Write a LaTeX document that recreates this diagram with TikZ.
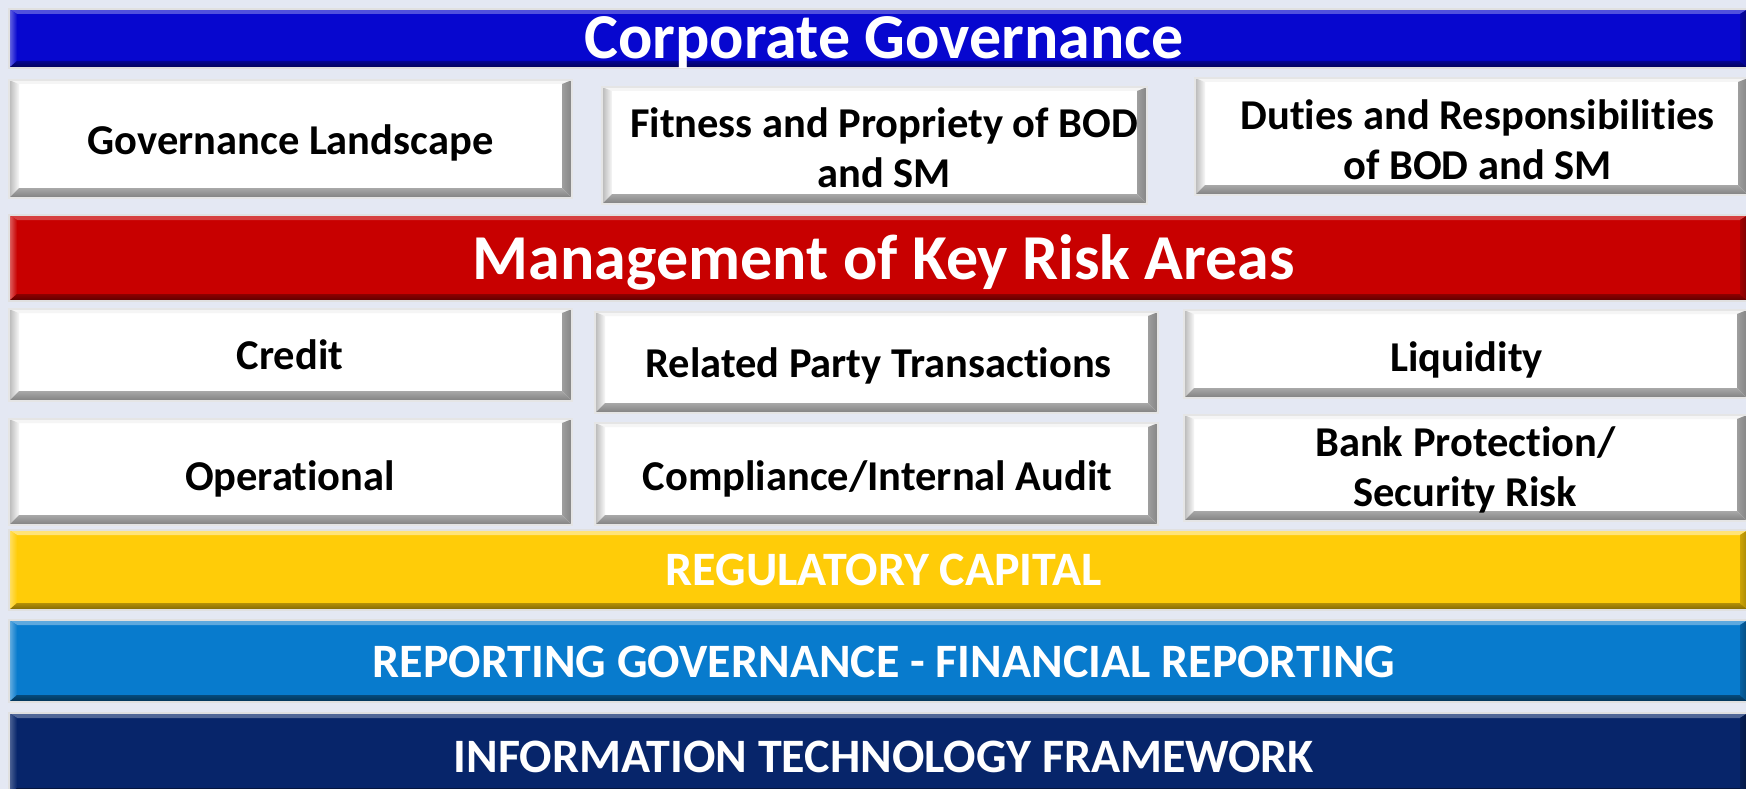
\documentclass[tikz,border=0pt]{standalone}
\usepackage{fontspec}
\setmainfont{Carlito}[Ligatures={NoCommon}]
\usetikzlibrary{fit}

\definecolor{bg}{HTML}{E4E8F3}
\definecolor{cgblue}{HTML}{0707CF}
\definecolor{riskred}{HTML}{C80000}
\definecolor{capyellow}{HTML}{FFCC08}
\definecolor{repblue}{HTML}{087BCD}
\definecolor{itnavy}{HTML}{07256A}

\tikzset{
  bv top/.code={\def\bvtop{#1}},
  bv left/.code 2 args={\def\bvlo{#1}\def\bvli{#2}},
  bv bottom/.code 2 args={\def\bvbi{#1}\def\bvbo{#2}},
  bv right/.code 2 args={\def\bvri{#1}\def\bvro{#2}},
  bv side/.code={\def\bvw{#1}},
  bv low/.code={\def\bvb{#1}},
  bv high/.code={\def\bvt{#1}},
  % rectangle with bevelled edges drawn inside it
  panel/.style={rectangle, inner sep=0pt, line width=2pt,
    path picture={
      \coordinate (bvnw) at (path picture bounding box.north west);
      \coordinate (bvne) at (path picture bounding box.north east);
      \coordinate (bvsw) at (path picture bounding box.south west);
      \coordinate (bvse) at (path picture bounding box.south east);
      \fill[\bvtop] (bvnw) -- (bvne) -- ([shift={(-\bvw pt,-\bvt pt)}]bvne)
        -- ([shift={(\bvw pt,-\bvt pt)}]bvnw) -- cycle;
      \shade[left color=\bvlo, right color=\bvli] (bvnw) -- (bvsw)
        -- ([shift={(\bvw pt,\bvb pt)}]bvsw) -- ([shift={(\bvw pt,-\bvt pt)}]bvnw) -- cycle;
      \shade[top color=\bvbi, bottom color=\bvbo] (bvsw) -- (bvse)
        -- ([shift={(-\bvw pt,\bvb pt)}]bvse) -- ([shift={(\bvw pt,\bvb pt)}]bvsw) -- cycle;
      \shade[left color=\bvri, right color=\bvro] (bvne) -- (bvse)
        -- ([shift={(-\bvw pt,\bvb pt)}]bvse) -- ([shift={(-\bvw pt,-\bvt pt)}]bvne) -- cycle;
    }},
  whitepanel/.style={panel, fill=white, draw=white!90!black,
    bv top=white!96!black, bv left={white!72!black}{white!97!black},
    bv bottom={white!66!black}{white!50!black}, bv right={white!62!black}{white!52!black},
    bv side=10, bv low=10, bv high=4},
  barpanel/.style={panel, draw=white!88!black, bv side=8, bv low=7, bv high=5},
  bluebar/.style={barpanel, fill=cgblue, bv top={cgblue!70!white},
    bv left={cgblue!60!white}{cgblue}, bv bottom={cgblue!70!black}{cgblue!40!black},
    bv right={cgblue!80!black}{cgblue!60!black}},
  redbar/.style={barpanel, fill=riskred, bv top={riskred!75!white},
    bv left={riskred!60!white}{riskred}, bv bottom={riskred!70!black}{riskred!45!black},
    bv right={riskred!80!black}{riskred!60!black}},
  yellowbar/.style={barpanel, fill=capyellow, bv top={capyellow!55!white},
    bv left={capyellow!60!white}{capyellow}, bv bottom={capyellow!70!black}{capyellow!50!black},
    bv right={capyellow!80!black}{capyellow!65!black}},
  lightbar/.style={barpanel, fill=repblue, bv top={repblue!65!white},
    bv left={repblue!60!white}{repblue}, bv bottom={repblue!60!black}{repblue!40!black},
    bv right={repblue!80!black}{repblue!60!black}},
  navybar/.style={barpanel, fill=itnavy, bv top={itnavy!70!white},
    bv left={itnavy!70!white}{itnavy}, bv bottom={itnavy!60!black}{itnavy!40!black},
    bv right={itnavy!80!black}{itnavy!60!black}},
  % labels: single lines are centred on their capital height
  bodytext/.style={font=\fontsize{42.5}{50}\selectfont\bfseries, text=black},
  bodyline/.style={bodytext, inner sep=0pt, text height=26.9pt, text depth=0pt},
  bodylines/.style={bodytext, align=center},
  bigtitle/.style={font=\fontsize{64}{70}\selectfont\bfseries, text=white,
    inner sep=0pt, text height=40.4pt, text depth=0pt},
  captitle/.style={font=\fontsize{48}{54}\selectfont\bfseries, text=white,
    inner sep=0pt, text height=30.3pt, text depth=0pt},
}

\begin{document}
\begin{tikzpicture}[x=1pt, y=-1pt]
  \fill[bg] (0,0) rectangle (1746,789);
  \useasboundingbox (0,0) rectangle (1746,789);

  % Corporate governance band
  \node[bluebar, fit={(9,9) (1748,68)}] (cg) {};
  \node[bigtitle] (cgt) at (884,38) {Corporate Governance};
  \node[whitepanel, fit={(9,80) (572,198)}] (gl) {};
  \node[bodyline] (glt) at (290.5,141.4) {Governance Landscape};
  \node[whitepanel, fit={(602,87) (1147,204)}] (fp) {};
  \node[bodylines] (fpt) at (884,147.5) {Fitness and Propriety of BOD\\and SM};
  \node[whitepanel, fit={(1195,78) (1748,195)}] (dr) {};
  \node[bodylines] (drt) at (1477.6,139.5) {Duties and Responsibilities\\of BOD and SM};

  % Key risk areas band
  \node[redbar, fit={(9,215) (1748,301)}] (mk) {};
  \node[bigtitle] (mkt) at (884,259.4) {Management of Key Risk Areas};
  \node[whitepanel, fit={(9,309) (572,401)}] (cr) {};
  \node[bodyline] (crt) at (290,356.3) {Credit};
  \node[whitepanel, fit={(595,312) (1158,413)}] (rp) {};
  \node[bodyline] (rpt) at (878.5,364.1) {Related Party Transactions};
  \node[whitepanel, fit={(1184,310) (1747,398)}] (lq) {};
  \node[bodyline] (lqt) at (1466.5,358.5) {Liquidity};
  \node[whitepanel, fit={(9,419) (572,525)}] (op) {};
  \node[bodyline] (opt) at (290,476.6) {Operational};
  \node[whitepanel, fit={(595,423) (1158,525)}] (ca) {};
  \node[bodyline] (cat) at (877.5,476.6) {Compliance/Internal Audit};
  \node[whitepanel, fit={(1184,415) (1747,521)}] (bp) {};
  \node[bodylines] (bpt) at (1465.4,470.3) {Bank Protection/\\Security Risk};

  % Lower bands
  \node[yellowbar, fit={(9,530) (1748,610)}] (rc) {};
  \node[captitle] (rct) at (884,570.1) {REGULATORY CAPITAL};
  \node[lightbar, fit={(9,620) (1748,702)}] (rg) {};
  \node[captitle] (rgt) at (884,662.5) {REPORTING GOVERNANCE - FINANCIAL REPORTING};
  \node[navybar, fit={(9,713) (1748,795)}] (it) {};
  \node[captitle] (itt) at (884,757.2) {INFORMATION TECHNOLOGY FRAMEWORK};
\end{tikzpicture}
\end{document}
